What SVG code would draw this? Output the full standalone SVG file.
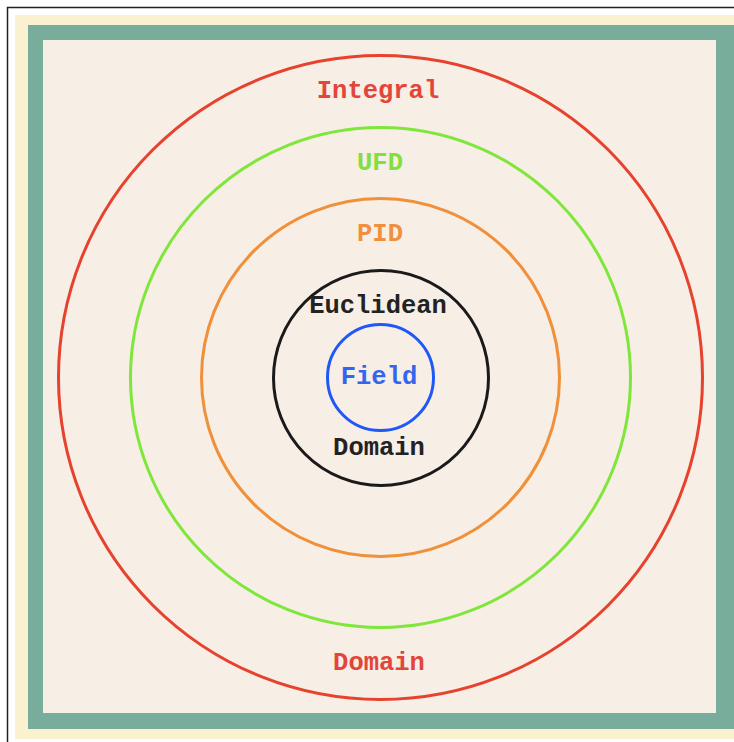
<svg xmlns="http://www.w3.org/2000/svg" width="734" height="742" viewBox="0 0 734 742">
<style>
.ring{fill:none;stroke-width:3}
.lbl{font-family:"Liberation Mono","Courier New",monospace;font-size:25.5px;font-weight:bold;text-anchor:middle}
</style>
<rect x="0" y="0" width="734" height="742" fill="#ffffff"/>
<rect x="7.5" y="7.5" width="740" height="750" fill="#ffffff" stroke="#222" stroke-width="1.5"/>
<rect x="15" y="15" width="730" height="724" fill="#FAF1D1"/>
<rect x="28" y="25" width="720" height="704" fill="#77AD9A"/>
<rect x="43" y="40" width="673" height="673" fill="#F7EEE5"/>
<g id="integral">
<circle class="ring" cx="380.5" cy="377.5" r="322" stroke="#E6422E"/>
<text class="lbl" x="378" y="98" fill="#E2453A">Integral</text>
<text class="lbl" x="379" y="670" fill="#E2453A">Domain</text>
</g>
<g id="ufd">
<circle class="ring" cx="380.5" cy="377.5" r="250" stroke="#7FE63C"/>
<text class="lbl" x="380" y="170" fill="#80E040">UFD</text>
</g>
<g id="pid">
<circle class="ring" cx="380.5" cy="377.5" r="179" stroke="#F0903A"/>
<text class="lbl" x="380" y="241" fill="#F0903F">PID</text>
</g>
<g id="euclidean">
<circle class="ring" cx="381" cy="378" r="107.5" stroke="#1a1a1a"/>
<text class="lbl" x="378" y="313" fill="#222">Euclidean</text>
<text class="lbl" x="379" y="455" fill="#222">Domain</text>
</g>
<g id="field">
<circle class="ring" cx="380.5" cy="377.5" r="53" stroke="#2058F8"/>
<text class="lbl" x="379" y="384" fill="#3366EE">Field</text>
</g>
</svg>
